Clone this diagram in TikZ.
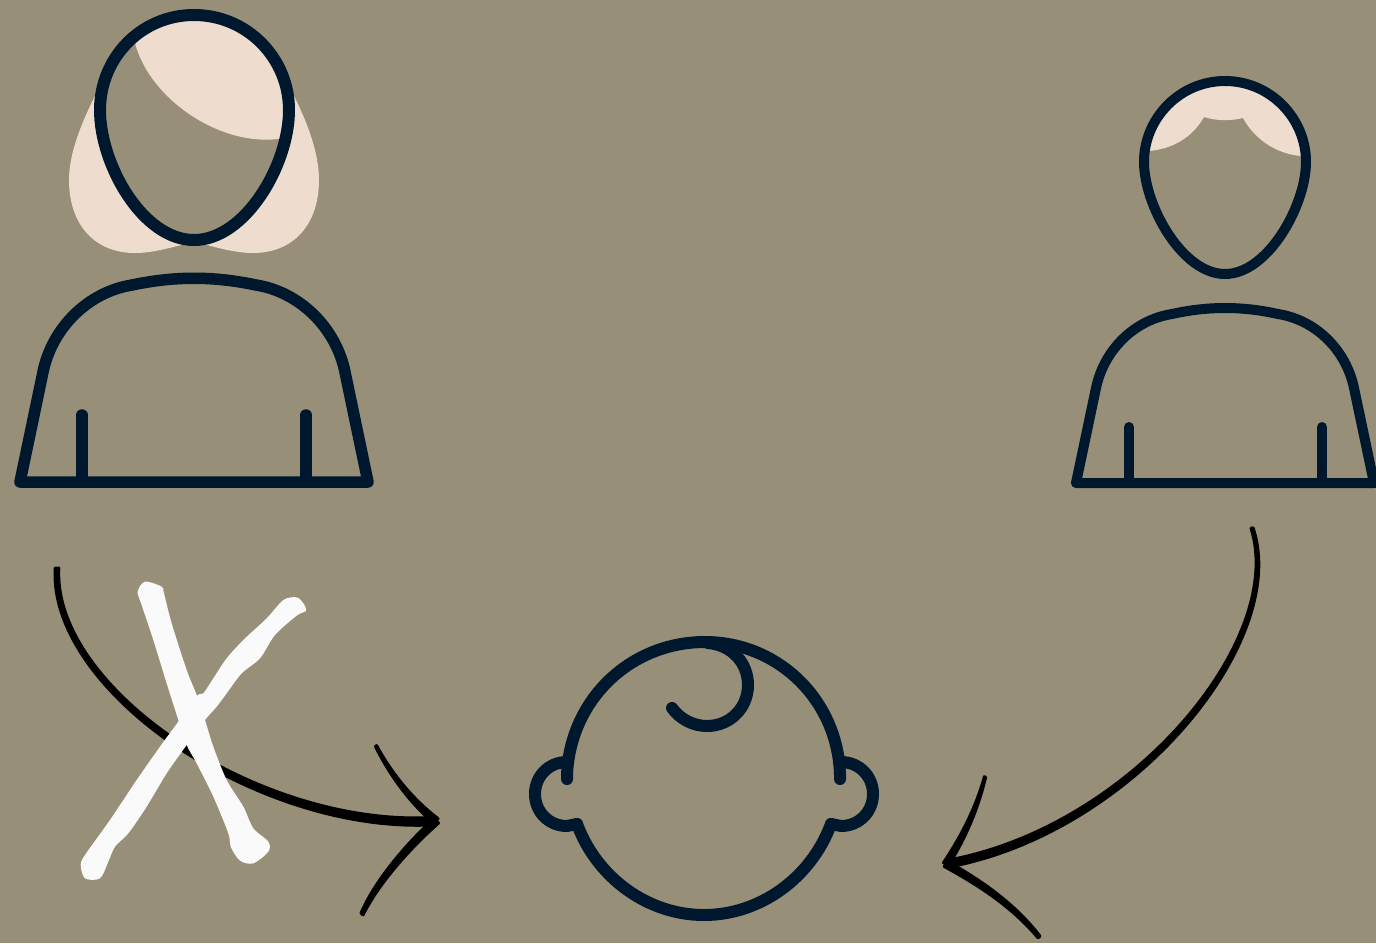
\documentclass[tikz,border=0pt]{standalone}
\usepackage{tikz}

\definecolor{bgkhaki}{HTML}{978F77}
\definecolor{navyline}{HTML}{00182E}
\definecolor{hairtone}{HTML}{EEDCCF}
\definecolor{crosswhite}{HTML}{FAFAFA}

\tikzset{
    outline/.style={draw=navyline, line width=#1, line cap=round, line join=round},
    outline/.default=11.5pt,
    hair/.style={fill=hairtone},
    pen/.style={fill=black, draw=black, line width=3pt, line join=round},
    cross/.style={fill=crosswhite}
}

\begin{document}
\begin{tikzpicture}[x=1pt, y=-1pt]

\useasboundingbox (0,0) rectangle (1376,943);
\clip (0,0) rectangle (1376,943);
\fill[bgkhaki] (0,0) rectangle (1376,943);

% Mother: hair
\begin{scope}
    \clip (194,15) .. controls (247,15) and (289,58) .. (289,110)
        .. controls (289,165) and (245,240) .. (194,240)
        .. controls (143,240) and (100,165) .. (100,110)
        .. controls (100,58) and (141,15) .. (194,15) -- cycle;
    \fill[hair] (135,43) .. controls (150,100) and (222,148) .. (282,138.5)
        -- (300,139) -- (300,0) -- (135,0) -- cycle;
\end{scope}
\fill[hair] (97,92) .. controls (80,125) and (69,155) .. (69,180)
    .. controls (69,225) and (95,253) .. (135,253)
    .. controls (152,253) and (170,248) .. (188,243)
    -- (194,240) .. controls (143,240) and (100,165) .. (100,110) -- cycle;
\fill[hair] (292,92) .. controls (309,125) and (319,155) .. (319,180)
    .. controls (319,225) and (293,253) .. (253,253)
    .. controls (236,253) and (218,248) .. (200,243)
    -- (194,240) .. controls (245,240) and (289,165) .. (289,110) -- cycle;

% Mother: head
\draw[outline=12pt] (194,15) .. controls (247,15) and (289,58) .. (289,110)
    .. controls (289,165) and (245,240) .. (194,240)
    .. controls (143,240) and (100,165) .. (100,110)
    .. controls (100,58) and (141,15) .. (194,15) -- cycle;

% Mother: body
\draw[outline] (20,482) -- (43,372)
    .. controls (52,328) and (88,292) .. (132,285)
    .. controls (175,276) and (213,276) .. (256,285)
    .. controls (300,292) and (336,328) .. (345,372)
    -- (368,482) -- cycle;
\draw[outline] (82,415) -- (82,482);
\draw[outline] (306,415) -- (306,482);

% Father: hair
\begin{scope}
    \clip (1225,81) .. controls (1270,81) and (1306,118) .. (1306,162)
        .. controls (1306,205) and (1268,274) .. (1225,274)
        .. controls (1182,274) and (1144,205) .. (1144,162)
        .. controls (1144,118) and (1180,81) .. (1225,81) -- cycle;
    \fill[hair] (1140,151.5) -- (1149,151) .. controls (1172,149) and (1192,138) .. (1204,117)
        .. controls (1216,121) and (1231,121) .. (1243,118)
        .. controls (1255,140) and (1277,154) .. (1301,156)
        -- (1310,156) -- (1310,70) -- (1140,70) -- cycle;
\end{scope}

% Father: head
\draw[outline=10pt] (1225,81) .. controls (1270,81) and (1306,118) .. (1306,162)
    .. controls (1306,205) and (1268,274) .. (1225,274)
    .. controls (1182,274) and (1144,205) .. (1144,162)
    .. controls (1144,118) and (1180,81) .. (1225,81) -- cycle;

% Father: body
\draw[outline=10pt] (1076,483) -- (1096,388)
    .. controls (1104,350) and (1134,320) .. (1172,314)
    .. controls (1208,306) and (1242,306) .. (1278,314)
    .. controls (1316,320) and (1346,350) .. (1354,388)
    -- (1374,483) -- cycle;
\draw[outline=10pt] (1076,483) -- (1380,483);
\draw[outline=10pt] (1129,427) -- (1129,483);
\draw[outline=10pt] (1322,427) -- (1322,483);

% Baby: head and ears
\draw[outline=12pt] (567,779) -- (567,775)
    .. controls (570,700) and (630,642) .. (705,642)
    .. controls (778,642) and (838,700) .. (840,775) -- (840,779);
\draw[outline=12pt] (577,824) .. controls (597,878) and (648,915) .. (704,915)
    .. controls (760,915) and (811,878) .. (831,824);
\draw[outline=12pt] (567,762) .. controls (549,762) and (535,776) .. (535,794)
    .. controls (535,812) and (549,826) .. (567,826) -- (577,824);
\draw[outline=12pt] (841,762) .. controls (859,762) and (873,776) .. (873,794)
    .. controls (873,812) and (859,826) .. (841,826) -- (831,824);
\draw[outline=12pt] (708,643) .. controls (732,645) and (748,663) .. (748,685)
    .. controls (748,708) and (730,726) .. (707,726)
    .. controls (693,726) and (680,719) .. (672,708);

% Arrow from mother
\path[pen] (55.2,568) .. controls (47.7,691.1) and (259.1,835.3) .. (436,824.7)
    -- (436,817.3) .. controls (260.9,828.7) and (52.3,688.9) .. (58.8,568) -- cycle;
\path[pen] (376.6,745.6) .. controls (391,772.3) and (411.8,798.6) .. (438,818.6)
    -- (434,823.4) .. controls (408.2,801.4) and (389,773.7) .. (375.4,746.4) -- cycle;
\path[pen] (363,914.8) .. controls (378,885.2) and (406,852) .. (438.5,823)
    -- (433.5,819) .. controls (402,848) and (374,882.8) .. (361,913.2) -- cycle;

% Arrow from father
\path[pen] (1253,527.7) .. controls (1291.3,640.4) and (1133.6,833.7) .. (946.6,867.4)
    -- (945.4,860.6) .. controls (1130.4,828.3) and (1286.7,639.6) .. (1251,528.3) -- cycle;
\path[pen] (985.6,777.3) .. controls (978,809) and (966,837.3) .. (948.5,865.3)
    -- (943.5,862.7) .. controls (962,834.7) and (976,807) .. (984.4,776.7) -- cycle;
\path[pen] (1040,936.2) .. controls (1015.5,904.5) and (983.6,881.8) .. (947.7,861.5)
    -- (944.3,866.5) .. controls (980.4,886.2) and (1012.5,907.5) .. (1038,937.8) -- cycle;

% White cross
\begin{scope}[shift={(40,550)}, scale=1/3]
    \fill[cross] plot[smooth cycle, tension=0.5] coordinates {
        (293,125) (315,95) (365,110) (372,130) (395,220) (440,360) (470,435)
        (495,510) (520,590) (560,690) (610,770) (640,835) (685,875) (685,905)
        (640,940) (600,932) (572,890) (565,850) (520,740) (470,640) (440,585)
        (415,510) (380,400) (340,270) (305,165)};
    \fill[cross] plot[smooth cycle, tension=0.5] coordinates {
        (798,182) (770,197) (705,255) (660,325) (605,370) (560,430) (530,470)
        (495,510) (440,585) (380,670) (320,770) (265,850) (225,890) (205,935)
        (180,985) (135,985) (122,945) (135,915) (210,810) (290,690) (360,590)
        (415,515) (470,438) (490,430) (520,385) (560,325) (610,270) (680,205)
        (730,150) (770,142) (790,160)};
\end{scope}

\end{tikzpicture}
\end{document}
